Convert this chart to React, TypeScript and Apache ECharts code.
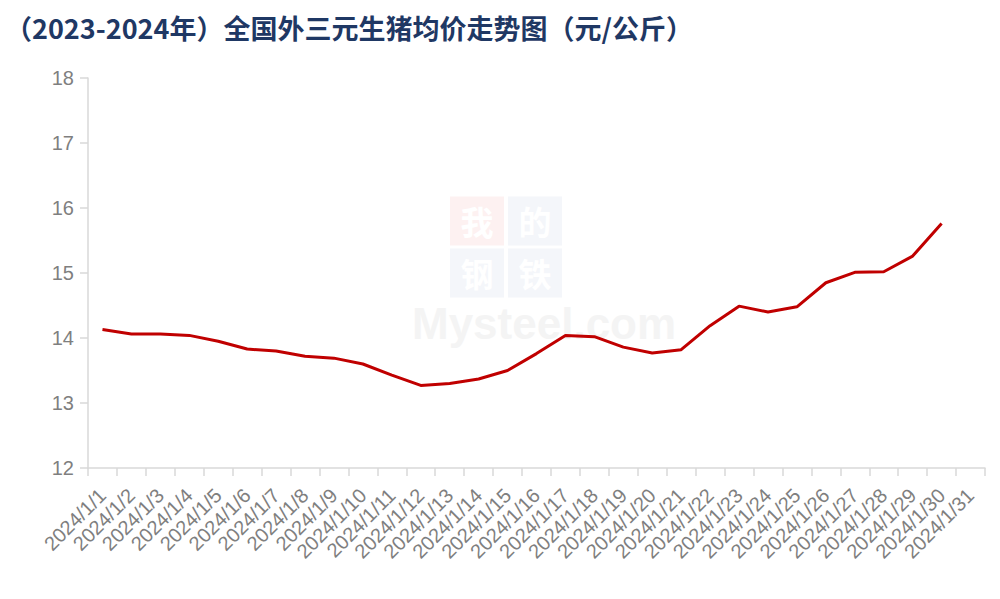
import React, { useEffect, useRef } from 'react';
import * as echarts from 'echarts';

const TITLE = '（2023-2024年）全国外三元生猪均价走势图（元/公斤）';

// 2024年1月每日
const dates = Array.from({ length: 31 }, (_, i) => `2024/1/${i + 1}`);

// 外三元生猪均价（元/公斤），1/31 暂无数据
const prices: (number | null)[] = [
  14.13, 14.06, 14.06, 14.04, 13.95, 13.83, 13.8, 13.72, 13.69, 13.6,
  13.43, 13.27, 13.3, 13.37, 13.5, 13.76, 14.04, 14.02, 13.86, 13.77,
  13.82, 14.19, 14.49, 14.4, 14.48, 14.85, 15.01, 15.02, 15.26, 15.76,
  null,
];

const yTicks = { min: 12, max: 18, interval: 1 };

// 水印方块：字、中心点、底色
const markChars = [
  { ch: '我', cx: 477, cy: 221, fill: '#fdf1f1' },
  { ch: '的', cx: 535, cy: 221, fill: '#f4f6fa' },
  { ch: '钢', cx: 477, cy: 273, fill: '#f4f6fa' },
  { ch: '铁', cx: 535, cy: 273, fill: '#f4f6fa' },
];

const App: React.FC = () => {
  const chartRef = useRef<HTMLDivElement>(null);

  useEffect(() => {
    if (!chartRef.current) return;
    const chart = echarts.init(chartRef.current, undefined, { renderer: 'svg' });

    const watermark: any[] = [];
    markChars.forEach((m) => {
      watermark.push({
        type: 'rect',
        shape: { x: m.cx - 27, y: m.cy - 24.5, width: 54, height: 49 },
        style: { fill: m.fill },
        silent: true,
      });
      watermark.push({
        type: 'text',
        style: {
          x: m.cx,
          y: m.cy,
          text: m.ch,
          fill: '#ffffff',
          font: 'bold 33px "Noto Sans CJK SC"',
          align: 'center',
          verticalAlign: 'middle',
        },
        silent: true,
      });
    });
    watermark.push({
      type: 'text',
      style: {
        x: 412,
        y: 323,
        text: 'Mysteel.com',
        fill: '#f4f4f4',
        font: 'bold 44px "Liberation Sans", Arial',
        align: 'left',
        verticalAlign: 'middle',
      },
      silent: true,
    });

    const option: echarts.EChartsOption = {
      animation: false,
      backgroundColor: '#ffffff',
      title: {
        text: TITLE,
        left: 0,
        top: 9,
        textStyle: {
          fontFamily: '"Noto Sans CJK SC", sans-serif',
          fontSize: 27,
          fontWeight: 'bold',
          color: '#1f3864',
        },
      },
      graphic: watermark,
      grid: {
        left: 88,
        right: 15,
        top: 78,
        bottom: 131,
        containLabel: false,
      },
      xAxis: {
        type: 'category',
        data: dates,
        boundaryGap: true,
        axisLine: { lineStyle: { color: '#d9d9d9', width: 1.5 } },
        axisTick: { show: true, length: 8, interval: 0, lineStyle: { color: '#d9d9d9', width: 1.5 } },
        axisLabel: {
          interval: 0,
          rotate: 45,
          margin: 24,
          color: '#7f7f7f',
          fontSize: 20,
          fontFamily: '"Liberation Sans", Arial, sans-serif',
        },
        splitLine: { show: false },
      },
      yAxis: {
        type: 'value',
        min: yTicks.min,
        max: yTicks.max,
        interval: yTicks.interval,
        axisLine: { show: true, lineStyle: { color: '#d9d9d9', width: 1.5 } },
        axisTick: { show: true, length: 8, lineStyle: { color: '#d9d9d9', width: 1.5 } },
        axisLabel: {
          color: '#7f7f7f',
          fontSize: 20,
          margin: 14,
          fontFamily: '"Liberation Sans", Arial, sans-serif',
        },
        splitLine: { show: false },
      },
      series: [
        {
          name: '外三元',
          type: 'line',
          data: prices,
          symbol: 'none',
          lineStyle: { color: '#c00000', width: 3 },
          itemStyle: { color: '#c00000' },
        },
      ],
    };

    chart.setOption(option);
    return () => {
      chart.dispose();
    };
  }, []);

  return (
    <div
      ref={chartRef}
      style={{ position: 'absolute', left: 0, top: 0, width: 1000, height: 599 }}
    />
  );
};

export default App;
